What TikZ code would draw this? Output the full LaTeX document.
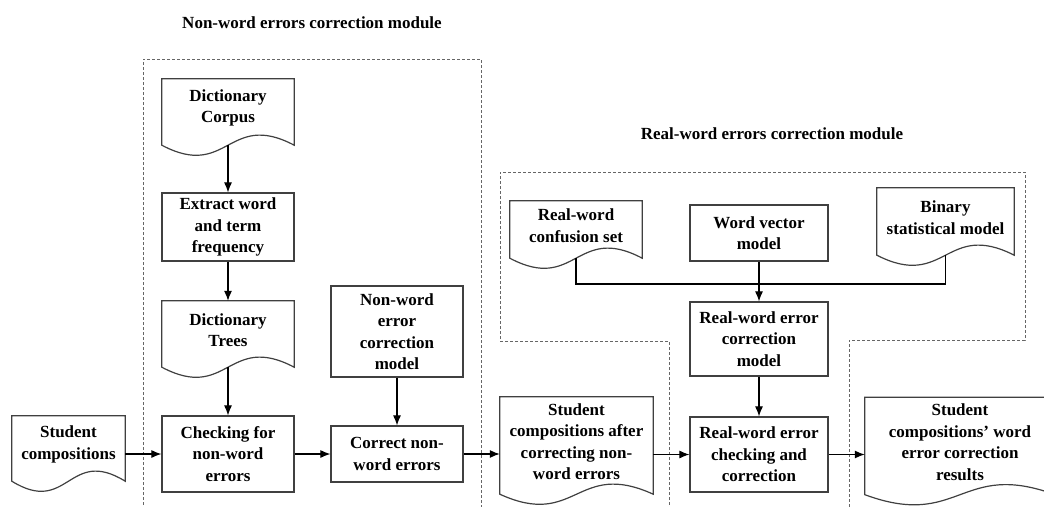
\documentclass[tikz,border=0pt]{standalone}
\usepackage{fontspec}
\setmainfont{Liberation Serif}
\usetikzlibrary{calc,arrows.meta}

\newcommand{\docoutline}[1]{%
  \draw[docline] let \p1=(#1.north west), \p2=(#1.south east) in
    (\p1) -- (\x1,{\y2-8pt})
    .. controls +({0.5*(\x2-\x1)},-35pt) and +({-0.5*(\x2-\x1)},35pt) .. (\x2,{\y2-8pt})
    -- (\x2,\y1) -- cycle;
  \coordinate (#1-b) at ($(#1.south)+(0,8)$);}

\begin{document}
\begin{tikzpicture}[x=1pt,y=-1pt,
    txt/.style={font=\bfseries\fontsize{17}{21.5}\selectfont,align=center,inner sep=1pt},
    box/.style={txt,draw=black!75,line width=1.2pt},
    doc/.style={txt},
    docline/.style={draw=black!75,line width=1.2pt},
    module/.style={draw=black!60,line width=0.8pt,dash pattern=on 3pt off 2pt},
    link/.style={line width=1.1pt,-{Latex[length=10pt,width=8pt]}}]
  \useasboundingbox (0,0) rectangle (1044,506);

  \draw[module] (143,510) -- (143,59) -- (481,59) -- (481,510);
  \draw[module] (669,510) -- (669,341) -- (500,341) -- (500,172) -- (1025,172)
    -- (1025,340) -- (849,340) -- (849,510);

  \node[txt] (nwtitle) at (312,23) {Non-word errors correction module};
  \node[txt] (rwtitle) at (772,134) {Real-word errors correction module};

  \node[doc,minimum width=132,minimum height=58] (corpus) at (228,108) {Dictionary\\Corpus};
  \docoutline{corpus}
  \node[box,minimum width=132,minimum height=68] (extract) at (228,227) {Extract word\\and term\\frequency};
  \node[doc,minimum width=132,minimum height=58] (trees) at (228,330) {Dictionary\\Trees};
  \docoutline{trees}
  \node[box,minimum width=132,minimum height=76] (check) at (228,454) {Checking for\\non-word\\errors};
  \node[box,minimum width=132,minimum height=91] (nwmodel) at (397,331.5) {Non-word\\error\\correction\\model};
  \node[box,minimum width=132,minimum height=56] (correct) at (397,454) {Correct non-\\word errors};
  \node[doc,minimum width=113,minimum height=57] (student) at (68.5,444.5) {Student\\compositions};
  \docoutline{student}

  \node[doc,minimum width=132,minimum height=49] (confusion) at (576,225.5) {Real-word\\confusion set};
  \docoutline{confusion}
  \node[box,minimum width=138,minimum height=56] (wordvec) at (759,233) {Word vector\\model};
  \node[doc,minimum width=137,minimum height=59] (binary) at (945.5,217.5) {Binary\\statistical model};
  \docoutline{binary}
  \node[box,minimum width=138,minimum height=74] (rwmodel) at (759,339) {Real-word error\\correction\\model};
  \node[box,minimum width=138,minimum height=75] (rwcheck) at (759,454.5) {Real-word error\\checking and\\correction};
  \node[doc,minimum width=153,minimum height=89] (after) at (576.5,441.5) {Student\\compositions after\\correcting non-\\word errors};
  \docoutline{after}
  \node[doc,minimum width=190,minimum height=89] (results) at (960,442) {Student\\compositions’ word\\error correction\\results};
  \docoutline{results}

  \coordinate (join) at (759,284);
  \draw[line width=1.1pt] (confusion-b) |- (join) -| (binary-b);

  \draw[link] (corpus-b) -- (extract);
  \draw[link] (extract) -- (trees);
  \draw[link] (trees-b) -- (check);
  \draw[link] (nwmodel) -- (correct);
  \draw[link] (student.east |- check) -- (check);
  \draw[link] (check) -- (correct);
  \draw[link] (correct) -- (correct -| after.west);
  \draw[link] (after.east |- rwcheck) -- (rwcheck);
  \draw[link] (rwcheck) -- (rwcheck -| results.west);
  \draw[link] (wordvec) -- (rwmodel);
  \draw[link] (rwmodel) -- (rwcheck);
\end{tikzpicture}
\end{document}
